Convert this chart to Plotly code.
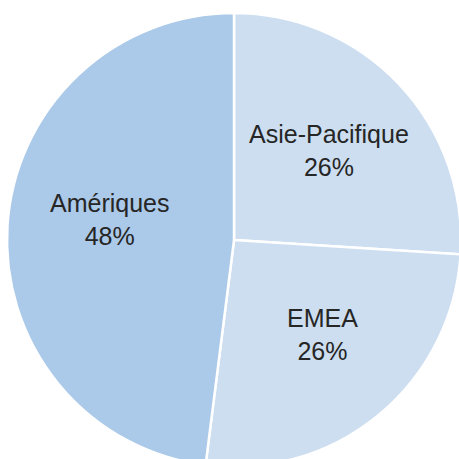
import plotly.graph_objects as go

labels = ["Asie-Pacifique", "EMEA", "Amériques"]
values = [26, 26, 48]
colors = ["#cddef0", "#cddef0", "#abc9e8"]

W = 470  # figure slightly larger than window; overflow is hidden

# label anchor positions in paper coordinates (layout only)
label_pos = {
    "Asie-Pacifique": (0.700, 0.679),
    "EMEA": (0.687, 0.289),
    "Amériques": (0.234, 0.532),
}

fig = go.Figure(go.Pie(
    labels=labels,
    values=values,
    sort=False,
    direction="clockwise",
    rotation=0,
    marker=dict(colors=colors, line=dict(color="white", width=2.5)),
    textinfo="none",
    hoverinfo="skip",
    domain=dict(x=[0.0149, 0.9809], y=[0.0064, 0.9723]),
))

total = sum(values)
for lab, val in zip(labels, values):
    x, y = label_pos[lab]
    fig.add_annotation(
        x=x, y=y, xref="paper", yref="paper",
        text=f"{lab}<br>{round(100 * val / total)}%",
        showarrow=False, xanchor="center", yanchor="middle",
        font=dict(family="Liberation Sans", size=25, color="#262626"),
    )

fig.update_layout(
    width=W, height=W,
    margin=dict(l=0, r=0, t=0, b=0),
    showlegend=False,
    paper_bgcolor="white",
)
fig.write_html(
    "out.html",
    config={"displayModeBar": False},
    post_script="document.body.style.margin='0';"
                "document.documentElement.style.overflow='hidden';"
                "document.body.style.overflow='hidden';",
)
